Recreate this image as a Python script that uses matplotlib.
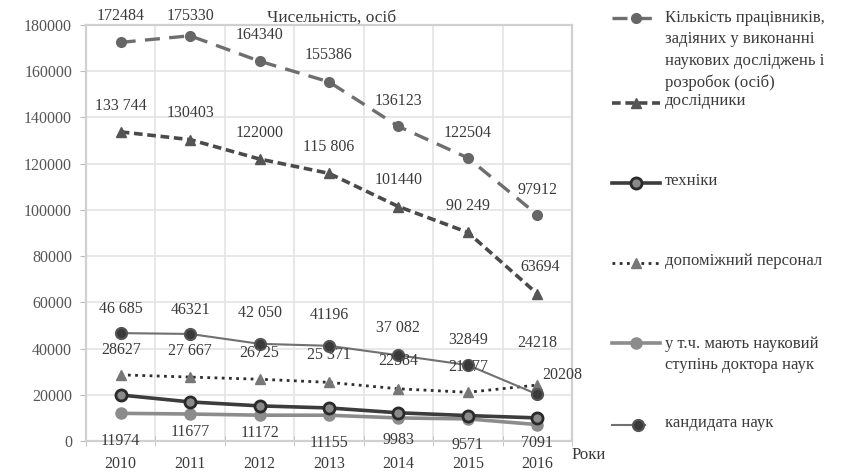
import matplotlib
matplotlib.use("Agg")
import matplotlib.pyplot as plt
from matplotlib.lines import Line2D
import numpy as np

plt.rcParams['font.family'] = ['Liberation Serif', 'DejaVu Serif']

years = ["2010", "2011", "2012", "2013", "2014", "2015", "2016"]

total = [172484, 175330, 164340, 155386, 136123, 122504, 97912]
total_lbl = ["172484", "175330", "164340", "155386", "136123", "122504", "97912"]

researchers = [133744, 130403, 122000, 115806, 101440, 90249, 63694]
researchers_lbl = ["133 744", "130403", "122000", "115 806", "101440", "90 249", "63694"]

technicians = [19900, 16900, 15200, 14300, 12200, 11000, 10000]

support = [28627, 27667, 26725, 25371, 22584, 21077, 24218]
support_lbl = ["28627", "27 667", "26725", "25 371", "22584", "21077", "24218"]

doctors = [11974, 11677, 11172, 11155, 9983, 9571, 7091]
doctors_lbl = ["11974", "11677", "11172", "11155", "9983", "9571", "7091"]

candidates = [46685, 46321, 42050, 41196, 37082, 32849, 20208]
candidates_lbl = ["46 685", "46321", "42 050", "41196", "37 082", "32849", "20208"]

legend_labels = [
    "Кількість працівників,\nзадіяних у виконанні\nнаукових досліджень і\nрозробок (осіб)",
    "дослідники",
    "техніки",
    "допоміжний персонал",
    "у т.ч. мають науковий\nступінь доктора наук",
    "кандидата наук",
]

W, H = 841, 472
fig = plt.figure(figsize=(W / 100, H / 100), dpi=100)
ax = fig.add_axes([86 / W, 1 - 441 / H, (572 - 86) / W, (441 - 25) / H])

x = np.arange(len(years))
txt_col = "#3a3a3a"

styles = {
    "total": dict(color="#6e6e6e", lw=2.4, dashes=(4.5, 2.8), marker="o", ms=7,
                  mfc="#666666", mec="#666666"),
    "res": dict(color="#4a4a4a", lw=2.6, dashes=(2.4, 1.3), marker="^", ms=7,
                mfc="#555555", mec="#555555"),
    "tech": dict(color="#3c3c3c", lw=2.6, ls="-", marker="o", ms=8,
                 mfc="#8a8a8a", mec="#2a2a2a", mew=2),
    "sup": dict(color="#2e2e2e", lw=2.0, dashes=(1, 1.6), marker="^", ms=7,
                mfc="#777777", mec="#777777"),
    "doc": dict(color="#8c8c8c", lw=2.6, ls="-", marker="o", ms=8,
                mfc="#8c8c8c", mec="#8c8c8c"),
    "cand": dict(color="#707070", lw=1.5, ls="-", marker="o", ms=8,
                 mfc="#3a3a3a", mec="#555555", mew=1.5),
}

ax.plot(x, total, **styles["total"], zorder=3)
ax.plot(x, researchers, **styles["res"], zorder=3)
ax.plot(x, doctors, **styles["doc"], zorder=3)
ax.plot(x, technicians, **styles["tech"], zorder=4)
ax.plot(x, support, **styles["sup"], zorder=3)
ax.plot(x, candidates, **styles["cand"], zorder=3)

lab_kw = dict(fontsize=11.5, color=txt_col, ha="center", va="center",
              textcoords="offset points", zorder=5)


def label_series(vals, lbls, dy, dxs=None, dys=None):
    for i, (v, t) in enumerate(zip(vals, lbls)):
        dx = dxs[i] if dxs else 0
        d = dys[i] if dys else dy
        ax.annotate(t, (x[i], v), xytext=(dx, d), **lab_kw)


label_series(total, total_lbl, 19, dys=[19, 14, 19, 19, 18, 18, 18])
label_series(researchers, researchers_lbl, 19, dxs=[0, 0, 0, 0, 0, 0, 2])
label_series(candidates, candidates_lbl, 17,
             dxs=[0, 0, 0, 0, 0, 0, 18], dys=[17, 17, 22, 22, 20, 18, 14])
label_series(support, support_lbl, 18,
             dxs=[0, 0, 0, 0, 0, 0, 0], dys=[18, 19, 19, 20, 20, 18, 30])
label_series(doctors, doctors_lbl, -18,
             dys=[-20, -13, -13, -20, -16, -19, -13])

ax.set_xlim(-0.5, len(years) - 0.5)
ax.set_ylim(0, 180000)
ax.set_yticks(np.arange(0, 180001, 20000))
ax.set_xticks(x)
ax.set_xticklabels(years)
ax.set_xticks(np.arange(-0.5, len(years)), minor=True)
ax.grid(axis="y", color="#e4e4e4", lw=1.2)
ax.grid(axis="x", which="minor", color="#e4e4e4", lw=1.2)
ax.set_axisbelow(True)

for s in ax.spines.values():
    s.set_color("#d0d0d0")
    s.set_linewidth(1.6)

ax.tick_params(axis="y", labelsize=11.5, labelcolor="#555555", color="#bbbbbb",
               length=4, pad=6)
ax.tick_params(axis="x", which="major", length=0, labelsize=11.5,
               labelcolor="#3a3a3a", pad=11)
ax.tick_params(axis="x", which="minor", length=7, direction="inout",
               color="#bbbbbb")

fig.text(332 / W, 1 - 18 / H, "Чисельність, осіб", fontsize=12.5, color=txt_col,
         ha="center", va="center")
fig.text(572 / W, 1 - 455 / H, "Роки", fontsize=12, color=txt_col,
         ha="left", va="center")

# legend
lax = fig.add_axes([0, 0, 1, 1])
lax.set_xlim(0, W)
lax.set_ylim(H, 0)
lax.axis("off")
keys = ["total", "res", "tech", "sup", "doc", "cand"]
sample_y = [18, 103, 183, 263, 343, 425]
text_y = [20, 103, 183, 263, 346, 425]
sample_x = [(612, 660)] * 5 + [(612, 645)]
for k, sy, ty, (x0, x1), lab in zip(keys, sample_y, text_y, sample_x, legend_labels):
    st = dict(styles[k])
    mk = dict(marker=st.pop("marker"), ms=st.pop("ms"), mfc=st.pop("mfc"),
              mec=st.pop("mec"))
    mew = st.pop("mew", 1)
    lax.add_line(Line2D([x0, x1], [sy, sy], **st))
    lax.add_line(Line2D([(x0 + x1) / 2 if k != "cand" else 638], [sy],
                        ls="none", mew=mew, **mk))
    lax.text(665, ty - 10, lab, fontsize=12, color=txt_col, ha="left", va="top",
             linespacing=1.45)

fig.savefig("out.png", dpi=100)
